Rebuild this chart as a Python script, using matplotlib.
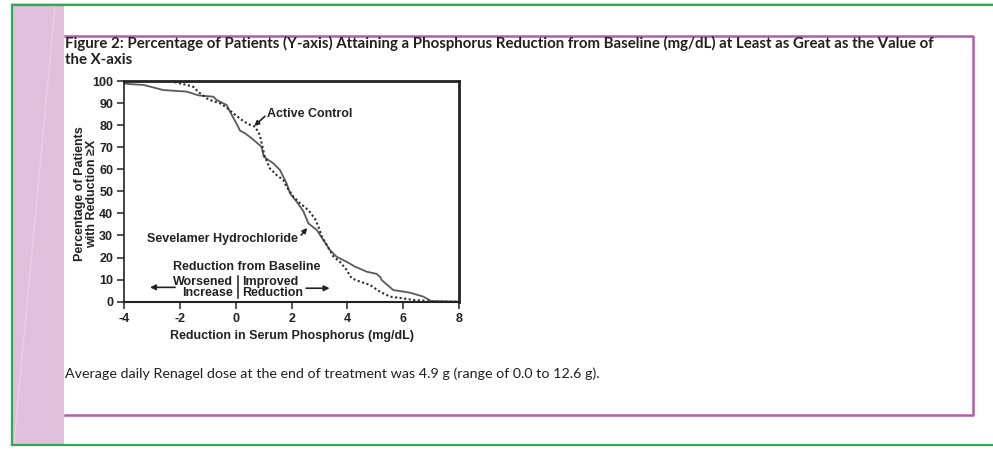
import matplotlib
matplotlib.use("Agg")
import matplotlib.pyplot as plt
import matplotlib.patches as patches

# Sevelamer Hydrochloride (solid) - % of patients with reduction >= x
sev_x = [-4.0, -3.8, -3.3, -2.6, -1.76, -1.4, -1.29, -0.81, -0.69, -0.33, -0.21,
         0.03, 0.15, 0.33, 0.57, 0.92, 1.0, 1.34, 1.58, 1.82, 1.94, 2.18, 2.42,
         2.6, 2.9, 3.14, 3.37, 3.61, 3.97, 4.27, 4.69, 5.05, 5.17, 5.23, 5.64,
         6.24, 6.72, 7.0, 8.0]
sev_y = [98.9, 98.6, 98.2, 95.9, 95.2, 93.7, 93.4, 92.9, 91.4, 89.1, 86.1,
         80.5, 77.5, 76.3, 74.0, 70.2, 65.7, 62.7, 59.7, 53.6, 49.1, 45.3, 41.0,
         35.5, 32.5, 27.9, 23.4, 20.4, 18.1, 15.9, 13.6, 12.6, 11.2, 9.8, 5.3,
         4.1, 2.3, 0.3, 0.0]

# Active Control (dotted)
ac_x = [-2.2, -1.76, -1.53, -1.35, -1.05, -0.93, -0.57, -0.33, -0.09, 0.27,
        0.51, 0.69, 0.86, 0.98, 1.04, 1.22, 1.46, 1.7, 1.82, 2.06, 2.3, 2.6,
        2.84, 2.96, 3.08, 3.26, 3.5, 3.73, 3.97, 4.15, 4.45, 4.81, 5.17, 5.53,
        6.0, 6.36, 6.72, 6.96, 8.0]
ac_y = [99.5, 98.2, 97.4, 95.1, 92.2, 91.4, 89.9, 88.0, 85.3, 81.8,
        80.1, 79.3, 75.5, 68.7, 65.7, 60.4, 57.4, 55.1, 52.1, 47.6, 44.6, 41.5,
        37.5, 34.0, 29.5, 25.7, 20.4, 18.1, 14.4, 10.6, 9.1, 7.6, 4.5, 2.3,
        1.5, 0.8, 0.5, 0.0, 0.0]

x_ticks = [-4, -2, 0, 2, 4, 6, 8]
y_ticks = [0, 10, 20, 30, 40, 50, 60, 70, 80, 90, 100]

title = ("Figure 2: Percentage of Patients (Y-axis) Attaining a Phosphorus Reduction "
         "from Baseline (mg/dL) at Least as Great as the Value of\nthe X-axis")
note = "Average daily Renagel dose at the end of treatment was 4.9 g (range of 0.0 to 12.6 g)."

W, H = 993, 454
fig = plt.figure(figsize=(W / 100, H / 100), dpi=100)

# page frame drawn in pixel coordinates
bg = fig.add_axes([0, 0, 1, 1])
bg.set_xlim(0, W)
bg.set_ylim(H, 0)
bg.axis('off')
bg.add_patch(patches.Rectangle((12, 5), 52, 439, fc='#dfbfdb', ec='none'))
bg.plot([55, 14], [6, 443], color='#e6d0e3', lw=1)
bg.plot([12, W], [3.5, 3.5], color='#b7e2c4', lw=1.2)
bg.plot([12, W], [5, 5], color='#2faa55', lw=1.6)
bg.plot([12, W], [444.5, 444.5], color='#2faa55', lw=1.6)
bg.plot([12, 12], [5, 444.5], color='#2faa55', lw=1.6)
bg.plot([65, 973, 973, 65], [35.8, 35.8, 415, 415], color='#b35fa8', lw=1.8)
bg.text(65, 36, title, fontsize=10.8, fontweight='bold', family='Lato',
        color='#231f20', va='top', ha='left', linespacing=1.15)
bg.text(65, 374, note, fontsize=10.3, family='Lato', color='#231f20',
        va='center', ha='left')

ax = fig.add_axes([124.3 / W, 1 - 301.7 / H, (459 - 124.3) / W, (301.7 - 81) / H])
ax.patch.set_alpha(0)
ax.plot(sev_x, sev_y, color='#5a5a5a', lw=1.3)
ax.plot(ac_x, ac_y, color='#2b2b2b', lw=1.5, ls=(0, (1, 1.2)))
ax.set_xlim(-4, 8)
ax.set_ylim(0, 100)
ax.set_xticks(x_ticks)
ax.set_yticks(y_ticks)
ax.set_xticklabels([str(t) for t in x_ticks])
for s, w in [('top', 2.0), ('right', 2.0), ('left', 1.2), ('bottom', 1.5)]:
    ax.spines[s].set_linewidth(w)
    ax.spines[s].set_color('#222222')
ax.tick_params(axis='both', direction='out', length=5, width=1.1, color='#222222',
               labelsize=9, pad=3)
for lab in ax.get_xticklabels() + ax.get_yticklabels():
    lab.set_fontweight('bold')
    lab.set_family('Liberation Sans')
    lab.set_color('#222222')

lf = dict(family='Liberation Sans', fontweight='bold', fontsize=9, color='#222222')
ax.set_xlabel("Reduction in Serum Phosphorus (mg/dL)", labelpad=4, **lf)
ax.set_ylabel("Percentage of Patients\nwith Reduction \u2265X",
              linespacing=0.95, **lf)
ax.yaxis.set_label_coords(-0.079, 0.49)

ax.text(1.12, 85, "Active Control", ha='left', va='center', **lf)
ax.annotate("", xy=(0.66, 79.6), xytext=(1.04, 84),
            arrowprops=dict(arrowstyle='-|>', color='#222222', lw=1.2,
                            mutation_scale=7, shrinkA=0, shrinkB=0))
ax.text(-3.19, 28.4, "Sevelamer Hydrochloride", ha='left', va='center', **lf)
ax.annotate("", xy=(2.56, 33.4), xytext=(2.34, 30.2),
            arrowprops=dict(arrowstyle='-|>', color='#222222', lw=1.2,
                            mutation_scale=7, shrinkA=0, shrinkB=0))
ax.text(0.4, 15.9, "Reduction from Baseline", ha='center', va='center', **lf)
ax.text(-0.12, 6.4, "Worsened\nIncrease", ha='right', va='center',
        linespacing=0.95, **lf)
ax.text(0.24, 6.4, "Improved\nReduction", ha='left', va='center',
        linespacing=0.95, **lf)
ax.plot([0.06, 0.06], [1.6, 11.6], color='#222222', lw=1.1)
ax.annotate("", xy=(-3.08, 6.5), xytext=(-2.18, 6.5),
            arrowprops=dict(arrowstyle='-|>', color='#222222', lw=1.2,
                            mutation_scale=8, shrinkA=0, shrinkB=0))
ax.annotate("", xy=(3.36, 6.1), xytext=(2.52, 6.1),
            arrowprops=dict(arrowstyle='-|>', color='#222222', lw=1.2,
                            mutation_scale=8, shrinkA=0, shrinkB=0))

fig.savefig("out.png", dpi=100)
